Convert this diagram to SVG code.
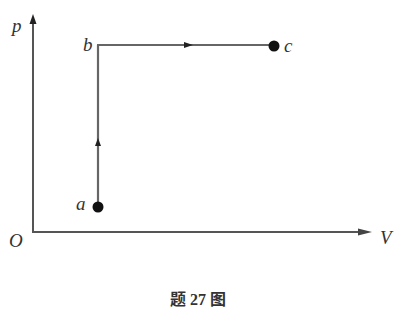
<svg xmlns="http://www.w3.org/2000/svg" width="398" height="320" viewBox="0 0 398 320">
<style>
.ax{stroke:#555;stroke-width:2;fill:none}
.ln{stroke:#666;stroke-width:2.2;fill:none}
.lb{font-family:"Liberation Serif",serif;font-style:italic;font-size:19px;fill:#333}
.cap{font-family:"Liberation Serif","Noto Sans CJK SC",serif;font-size:16px;font-weight:bold;fill:#333}
</style>
<g id="connectors">
<line class="ax" x1="33" y1="233" x2="33" y2="18"/>
<path d="M33,14 L29.5,24 L36.5,24 Z" fill="#222"/>
<line class="ax" x1="33" y1="232" x2="368" y2="232"/>
<path d="M372,232 L358,228.5 L358,235.5 Z" fill="#444"/>
<line class="ln" x1="98" y1="207" x2="98" y2="45"/>
<line class="ln" x1="97" y1="45" x2="274" y2="45"/>
<path d="M98,138 L95,146 L101,146 Z" fill="#222"/>
<path d="M193,45 L184,42 L184,48 Z" fill="#222"/>
</g>
<g id="node-a"><circle cx="98" cy="207" r="5.5" fill="#111"/><text class="lb" x="76" y="210">a</text></g>
<g id="node-b"><text class="lb" x="83" y="51">b</text></g>
<g id="node-c"><circle cx="274" cy="46" r="5.5" fill="#111"/><text class="lb" x="284" y="52">c</text></g>
<g id="labels">
<text class="lb" x="12" y="32">p</text>
<text class="lb" x="9" y="247">O</text>
<text class="lb" x="380" y="244">V</text>
<text class="cap" x="198" y="305" text-anchor="middle">题 27 图</text>
</g>
</svg>
